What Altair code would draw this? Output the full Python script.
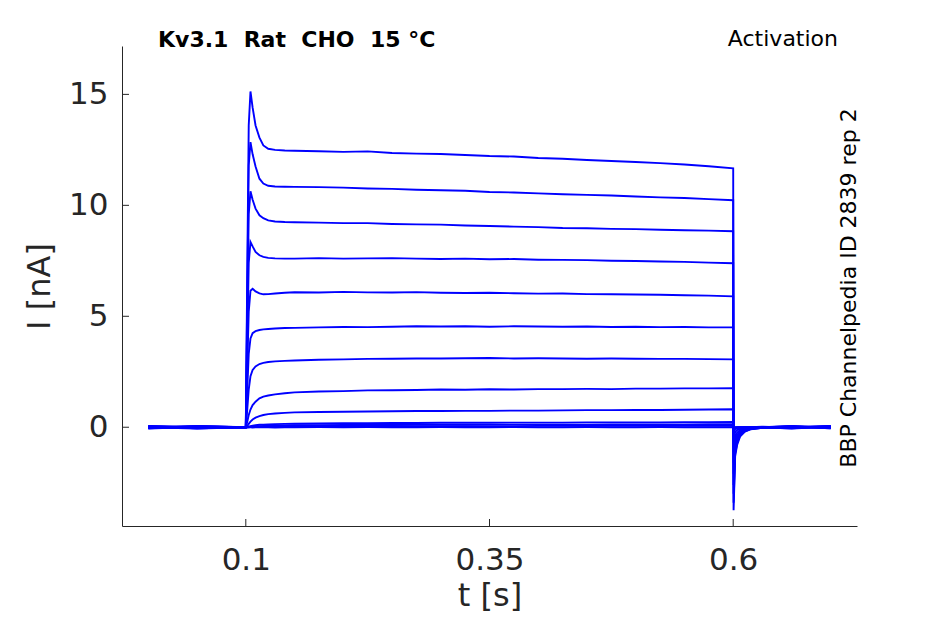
import altair as alt
import pandas as pd

# ---- data ----
TIME = [0.0, 0.05, 0.1, 0.1015, 0.103, 0.1048, 0.107, 0.110, 0.114, 0.118, 0.123, 0.13, 0.14,
        0.15, 0.175, 0.2, 0.225, 0.25, 0.275, 0.3, 0.325, 0.35, 0.375, 0.4, 0.425, 0.45,
        0.475, 0.5, 0.525, 0.55, 0.575, 0.6,
        0.6004, 0.602, 0.604, 0.607, 0.612, 0.618, 0.63, 0.66, 0.7]

TRACE_01 = [0.05, -0.04, 0.0, 7.0, 13.6, 15.13, 14.4, 13.6, 13.05, 12.7, 12.55, 12.5, 12.47,
            12.46, 12.44, 12.41, 12.43, 12.36, 12.33, 12.31, 12.27, 12.22, 12.2, 12.13, 12.1, 12.04,
            12.0, 11.95, 11.9, 11.84, 11.76, 11.67,
            -3.74, -1.3, -0.8, -0.42, -0.2, -0.09, -0.02, 0.04, -0.03]
TRACE_02 = [-0.05, 0.04, 0.0, 6.0, 11.8, 12.85, 12.3, 11.75, 11.2, 10.98, 10.88, 10.85, 10.84,
            10.83, 10.82, 10.8, 10.76, 10.74, 10.7, 10.68, 10.66, 10.6, 10.58, 10.54, 10.5, 10.47,
            10.44, 10.4, 10.36, 10.33, 10.28, 10.23,
            -3.4, -1.2, -0.72, -0.38, -0.18, -0.08, -0.02, -0.04, 0.05]
TRACE_03 = [0.03, -0.05, 0.0, 5.0, 9.6, 10.63, 10.25, 9.85, 9.55, 9.42, 9.32, 9.27, 9.25,
            9.24, 9.22, 9.2, 9.2, 9.16, 9.14, 9.13, 9.09, 9.07, 9.04, 9.02, 8.98, 8.97,
            8.94, 8.93, 8.9, 8.88, 8.86, 8.83,
            -3.0, -1.05, -0.64, -0.34, -0.16, -0.07, -0.02, 0.03, -0.05]
TRACE_04 = [-0.03, 0.05, 0.0, 3.8, 7.4, 8.35, 8.15, 7.9, 7.75, 7.68, 7.63, 7.61, 7.6,
            7.6, 7.62, 7.6, 7.61, 7.62, 7.6, 7.58, 7.6, 7.57, 7.58, 7.55, 7.54, 7.53,
            7.5, 7.49, 7.47, 7.45, 7.42, 7.39,
            -2.6, -0.9, -0.55, -0.3, -0.14, -0.06, -0.01, -0.05, 0.04]
TRACE_05 = [0.06, -0.02, 0.0, 2.7, 5.2, 6.15, 6.24, 6.12, 6.03, 5.99, 6.0, 6.03, 6.06,
            6.08, 6.07, 6.1, 6.08, 6.07, 6.09, 6.06, 6.05, 6.06, 6.04, 6.02, 6.03, 6.0,
            5.99, 5.98, 5.97, 5.95, 5.93, 5.9,
            -2.1, -0.75, -0.45, -0.24, -0.11, -0.05, -0.01, 0.05, -0.02]
TRACE_06 = [-0.06, 0.02, 0.0, 1.7, 3.3, 4.0, 4.24, 4.33, 4.38, 4.41, 4.43, 4.45, 4.47,
            4.48, 4.5, 4.52, 4.51, 4.53, 4.55, 4.54, 4.55, 4.53, 4.55, 4.54, 4.53, 4.54,
            4.52, 4.53, 4.51, 4.52, 4.5, 4.5,
            -1.6, -0.58, -0.35, -0.18, -0.09, -0.04, -0.01, -0.02, 0.06]
TRACE_07 = [0.02, -0.05, 0.0, 0.8, 1.7, 2.3, 2.58, 2.74, 2.85, 2.9, 2.94, 2.97, 2.99,
            3.01, 3.04, 3.06, 3.08, 3.09, 3.1, 3.1, 3.11, 3.12, 3.1, 3.11, 3.1, 3.09,
            3.1, 3.09, 3.08, 3.08, 3.07, 3.06,
            -1.1, -0.4, -0.24, -0.13, -0.06, -0.03, 0.0, -0.06, 0.03]
TRACE_08 = [-0.02, 0.06, 0.0, 0.25, 0.55, 0.8, 1.0, 1.15, 1.3, 1.38, 1.43, 1.48, 1.53,
            1.57, 1.61, 1.63, 1.66, 1.67, 1.68, 1.7, 1.69, 1.71, 1.7, 1.72, 1.72, 1.73,
            1.72, 1.74, 1.74, 1.75, 1.75, 1.76,
            -0.6, -0.22, -0.13, -0.07, -0.03, -0.01, 0.0, 0.06, -0.04]
TRACE_09 = [0.04, -0.01, 0.0, 0.05, 0.15, 0.25, 0.35, 0.43, 0.5, 0.55, 0.59, 0.62, 0.65,
            0.67, 0.69, 0.7, 0.71, 0.72, 0.73, 0.73, 0.74, 0.74, 0.75, 0.75, 0.76, 0.77,
            0.77, 0.78, 0.78, 0.79, 0.8, 0.81,
            -0.25, -0.09, -0.05, -0.03, -0.01, 0.0, 0.01, -0.03, 0.02]
TRACE_10 = [-0.04, -0.03, 0.0, 0.01, 0.03, 0.05, 0.07, 0.09, 0.11, 0.12, 0.13, 0.14, 0.15,
            0.16, 0.17, 0.18, 0.18, 0.19, 0.19, 0.2, 0.2, 0.2, 0.21, 0.21, 0.21, 0.22,
            0.22, 0.22, 0.22, 0.23, 0.23, 0.24,
            -0.08, -0.03, -0.02, -0.01, 0.0, 0.0, -0.01, 0.02, -0.05]
TRACE_11 = [0.05, 0.03, 0.0, 0.0, 0.01, 0.02, 0.03, 0.04, 0.05, 0.06, 0.07, 0.08, 0.08,
            0.09, 0.09, 0.1, 0.1, 0.1, 0.11, 0.11, 0.11, 0.12, 0.12, 0.12, 0.12, 0.12,
            0.13, 0.13, 0.13, 0.13, 0.14, 0.14,
            -0.04, -0.02, -0.01, 0.0, 0.0, 0.0, 0.02, -0.02, 0.01]
TRACE_12 = [0.0, -0.06, 0.0, 0.0, 0.0, 0.01, 0.01, 0.02, 0.02, 0.03, 0.03, 0.03, 0.04,
            0.04, 0.04, 0.04, 0.05, 0.05, 0.05, 0.05, 0.05, 0.05, 0.05, 0.06, 0.06, 0.06,
            0.06, 0.06, 0.06, 0.06, 0.06, 0.06,
            -0.02, -0.01, 0.0, 0.0, 0.0, 0.0, 0.0, 0.04, -0.03]
TRACE_13 = [-0.03, 0.04, 0.0, 0.0, 0.01, 0.0, -0.01, 0.0, 0.01, 0.0, 0.0, -0.01, 0.0,
            0.0, 0.01, 0.0, 0.01, 0.0, 0.0, 0.01, 0.0, 0.0, 0.01, 0.0, 0.0, 0.01,
            0.0, 0.0, 0.01, 0.0, 0.0, 0.0,
            -0.01, 0.0, 0.0, 0.0, 0.0, 0.0, -0.03, 0.01, 0.06]

TRACES = [TRACE_01, TRACE_02, TRACE_03, TRACE_04, TRACE_05, TRACE_06, TRACE_07,
          TRACE_08, TRACE_09, TRACE_10, TRACE_11, TRACE_12, TRACE_13]

X_TICKS = [0.1, 0.35, 0.6]
Y_TICKS = [0, 5, 10, 15]

NB = "\u00a0"
TITLE_LEFT = f"Kv3.1{NB}{NB}Rat{NB}{NB}CHO{NB}{NB}15{NB}°C"
TITLE_RIGHT = "Activation"
SIDE_TEXT = "BBP Channelpedia ID 2839 rep 2"

# ---- build table ----
rows = []
for k, tr in enumerate(TRACES):
    for t, v in zip(TIME, tr):
        rows.append({"t": t, "I": v, "trace": k})
df = pd.DataFrame(rows)

W, H = 735, 480
FONT = "DejaVu Sans"
AX = "#262626"

xscale = alt.Scale(domain=[-0.027, 0.727], nice=False, zero=False)
yscale = alt.Scale(domain=[-4.45, 17.18], nice=False, zero=False)

lines = alt.Chart(df).mark_line(color="#0000ff", strokeWidth=1.9, clip=True).encode(
    x=alt.X("t:Q", scale=xscale,
            axis=alt.Axis(values=X_TICKS, format="~g", title="t [s]", ticks=False, grid=False,
                          labelPadding=19, titleY=69, titleBaseline="middle")),
    y=alt.Y("I:Q", scale=yscale,
            axis=alt.Axis(values=Y_TICKS, format="~g", title="I [nA]", ticks=False, grid=False,
                          labelPadding=14, titleX=-83, titleY=H / 2, titleAlign="center",
                          titleBaseline="middle")),
    detail="trace:N",
)

xt = alt.Chart(pd.DataFrame({"t": X_TICKS})).mark_rule(color=AX, strokeWidth=1).encode(
    x=alt.X("t:Q", scale=xscale), y=alt.value(H), y2=alt.value(H - 7))
yt = alt.Chart(pd.DataFrame({"v": Y_TICKS})).mark_rule(color=AX, strokeWidth=1).encode(
    y=alt.Y("v:Q", scale=yscale), x=alt.value(0), x2=alt.value(7))

t_left = alt.Chart(pd.DataFrame({"s": [TITLE_LEFT]})).mark_text(
    font=FONT, fontSize=22, fontWeight="bold", color="black", align="left", baseline="middle"
).encode(x=alt.value(36), y=alt.value(-6), text="s:N")
t_right = alt.Chart(pd.DataFrame({"s": [TITLE_RIGHT]})).mark_text(
    font=FONT, fontSize=22, color="black", align="right", baseline="middle"
).encode(x=alt.value(716), y=alt.value(-7), text="s:N")
t_side = alt.Chart(pd.DataFrame({"s": [SIDE_TEXT]})).mark_text(
    font=FONT, fontSize=22, color="black", align="center", baseline="middle", angle=270
).encode(x=alt.value(727), y=alt.value(242), text="s:N")

chart = alt.layer(lines, xt, yt, t_left, t_right, t_side).properties(
    width=W, height=H,
    autosize=alt.AutoSizeParams(type="none"),
    padding={"left": 114, "top": 38, "right": 70, "bottom": 88},
    background="white",
).configure_view(strokeWidth=0).configure_axis(
    domainColor=AX, domainWidth=1, labelFont=FONT, labelFontSize=31, labelColor=AX,
    titleFont=FONT, titleFontSize=32, titleFontWeight="normal", titleColor=AX,
)

chart.save("out.html", embed_options={"renderer": "svg", "actions": False})
